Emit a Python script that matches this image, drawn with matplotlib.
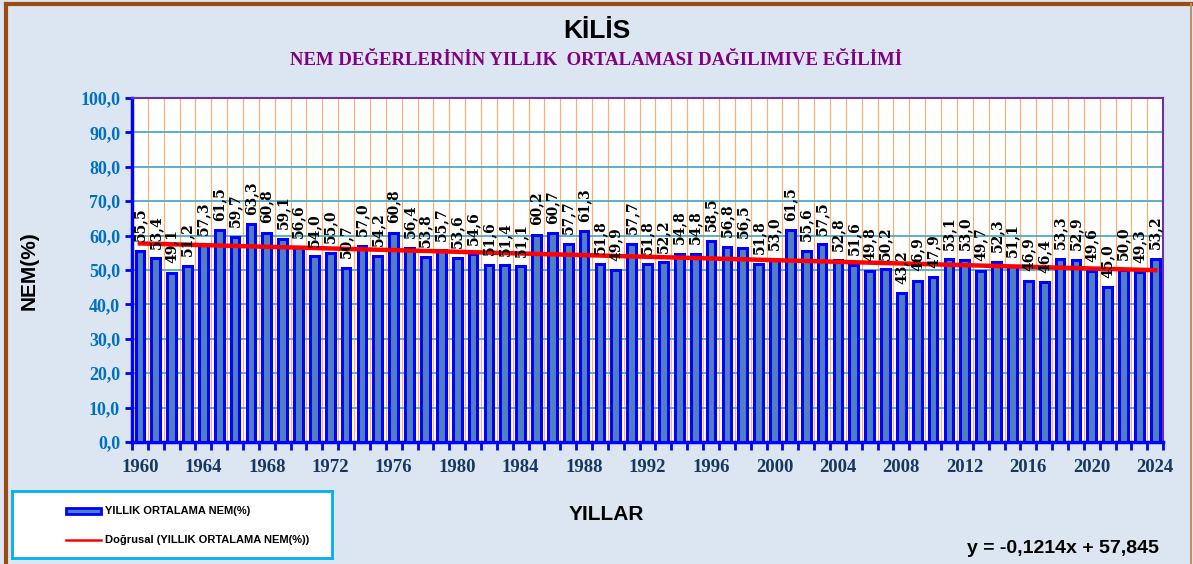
import numpy as np
import matplotlib
matplotlib.use("Agg")
import matplotlib.pyplot as plt
from matplotlib.patches import Rectangle
from matplotlib.lines import Line2D

# ------------------------------------------------------
# DATA
# ------------------------------------------------------
years = list(range(1960, 2025))
nem = [55.5, 53.4, 49.1, 51.2, 57.3, 61.5, 59.7, 63.3, 60.8, 59.1,
       56.6, 54.0, 55.0, 50.7, 57.0, 54.2, 60.8, 56.4, 53.8, 55.7,
       53.6, 54.6, 51.6, 51.4, 51.1, 60.2, 60.7, 57.7, 61.3, 51.8,
       49.9, 57.7, 51.8, 52.2, 54.8, 54.8, 58.5, 56.8, 56.5, 51.8,
       53.0, 61.5, 55.6, 57.5, 52.8, 51.6, 49.8, 50.2, 43.2, 46.9,
       47.9, 53.1, 53.0, 49.7, 52.3, 51.1, 46.9, 46.4, 53.3, 52.9,
       49.6, 45.0, 50.0, 49.3, 53.2]
yticks = [0, 10, 20, 30, 40, 50, 60, 70, 80, 90, 100]
xtick_years = list(range(1960, 2025, 4))

title = "KİLİS"
subtitle = "NEM DEĞERLERİNİN YILLIK  ORTALAMASI DAĞILIMIVE EĞİLİMİ"
equation = "y = -0,1214x + 57,845"

SERIF = "Liberation Serif"
SANS = "Liberation Sans"

# ------------------------------------------------------
# FIGURE
# ------------------------------------------------------
fig = plt.figure(figsize=(11.93, 5.64), dpi=100)
fig.patch.set_facecolor("#dce6f2")
# frame: thick brown top/left, thin tan right
fig.add_artist(Line2D([0.005, 0.005], [0.0, 0.993], transform=fig.transFigure,
                      color="#9c4a14", linewidth=3))
fig.add_artist(Line2D([0.005, 0.999], [0.993, 0.993], transform=fig.transFigure,
                      color="#9c4a14", linewidth=3))
fig.add_artist(Line2D([0.9985, 0.9985], [0.0, 0.993], transform=fig.transFigure,
                      color="#c0906a", linewidth=1.5))

ax = fig.add_axes([0.1106, 0.2163, 0.8644, 0.6099])
ax.set_facecolor("white")

x = np.arange(len(years))
ax.bar(x, nem, width=0.55, color="#4f81bd", edgecolor="#0000ff", linewidth=2.2, zorder=3)

# trend line (least squares, x = 1..n)
n = np.arange(1, len(years) + 1)
slope, intercept = np.polyfit(n, nem, 1)
ax.plot(x, slope * n + intercept, color="red", linewidth=3.2, zorder=5)

# value labels
for xi, v in zip(x, nem):
    ax.text(xi, v + 2.8, f"{v:.1f}".replace(".", ","), rotation=90, ha="center", va="bottom",
            fontsize=10, fontweight="bold", family="DejaVu Serif", color="black", zorder=6)

# grid
bounds = np.arange(-0.5, len(years), 1.0)
for g in bounds:
    ax.axvline(g, color="#f79646", linewidth=0.9, alpha=0.75, zorder=1)
for t in yticks[1:-1]:
    ax.axhline(t, color="#4bacc6", linewidth=1.3, zorder=1)

ax.set_xlim(-0.5, len(years) - 0.5)
ax.set_ylim(0, 100)
ax.set_yticks(yticks)
ax.set_yticklabels([f"{t:.1f}".replace(".", ",") for t in yticks],
                   fontsize=13, fontweight="bold", family=SERIF)
ax.set_xticks([years.index(y) for y in xtick_years])
ax.set_xticklabels([str(y) for y in xtick_years], fontsize=13.5, fontweight="bold", family=SERIF)
ax.set_xticks(bounds, minor=True)
ax.tick_params(axis="y", colors="#0000ff", labelcolor="#0070c0", length=5, width=2)
ax.tick_params(axis="x", which="major", length=0, labelcolor="#17375e", pad=12)
ax.tick_params(axis="x", which="minor", length=6, width=2, colors="#0000ff")

ax.spines["left"].set_color("#0000ff")
ax.spines["left"].set_linewidth(2.5)
ax.spines["bottom"].set_color("#0000ff")
ax.spines["bottom"].set_linewidth(2.5)
ax.spines["top"].set_color("#7030a0")
ax.spines["right"].set_color("#7030a0")
ax.spines["top"].set_linewidth(1.5)
ax.spines["right"].set_linewidth(1.5)

# texts
fig.text(0.5, 0.945, title, ha="center", va="center", fontsize=19, fontweight="bold", family=SANS)
fig.text(0.5, 0.893, subtitle, ha="center", va="center", fontsize=13.5, fontweight="bold",
         family=SERIF, color="#800080")
fig.text(0.024, 0.52, "NEM(%)", rotation=90, ha="center", va="center", fontsize=15,
         fontweight="bold", family=SANS)
fig.text(0.508, 0.087, "YILLAR", ha="center", va="center", fontsize=15, fontweight="bold", family=SANS)
fig.text(0.971, 0.027, equation, ha="right", va="center", fontsize=14, fontweight="bold", family=SANS)

# legend box
leg_ax = fig.add_axes([0.010, 0.010, 0.268, 0.120])
leg_ax.set_xlim(0, 1)
leg_ax.set_ylim(0, 1)
leg_ax.set_xticks([])
leg_ax.set_yticks([])
leg_ax.set_facecolor("white")
for s in leg_ax.spines.values():
    s.set_color("#00b0f0")
    s.set_linewidth(2)
leg_ax.add_patch(Rectangle((0.17, 0.655), 0.11, 0.09, facecolor="#4f81bd", edgecolor="#0000ff", linewidth=2))
leg_ax.text(0.29, 0.70, "YILLIK ORTALAMA NEM(%)", va="center", fontsize=8, fontweight="bold", family=SANS)
leg_ax.add_line(Line2D([0.17, 0.28], [0.27, 0.27], color="red", linewidth=1.8))
leg_ax.text(0.29, 0.27, "Doğrusal (YILLIK ORTALAMA NEM(%))", va="center", fontsize=8,
            fontweight="bold", family=SANS)

fig.savefig("out.png", dpi=100, facecolor=fig.get_facecolor())
